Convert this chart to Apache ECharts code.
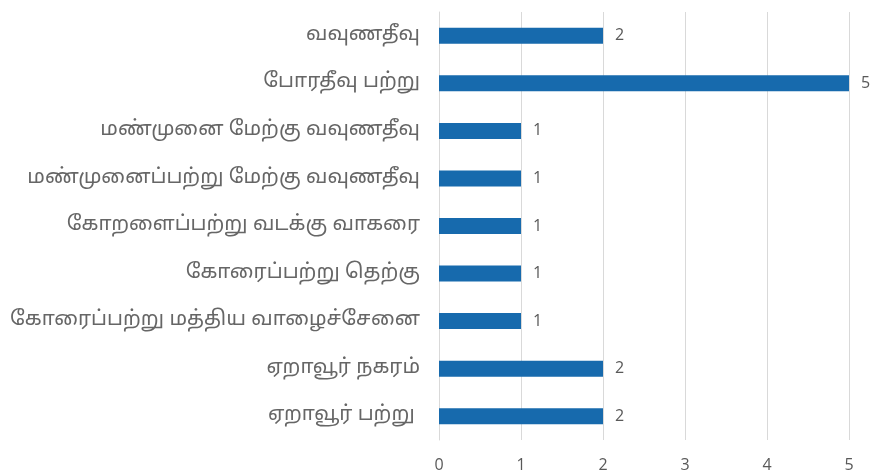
<!DOCTYPE html>
<html>
<head>
<meta charset="utf-8">
<script src="https://cdn.jsdelivr.net/npm/echarts@6/dist/echarts.min.js"></script>
<style>
  html, body { margin: 0; padding: 0; background: #fff; }
  #main { width: 870px; height: 473px; }
</style>
</head>
<body>
<div id="main"></div>
<script>
// data, bottom row first (category axis runs upward)
const categories = [
  "ஏறாவூர் பற்று ",
  "ஏறாவூர் நகரம்",
  "கோரைப்பற்று மத்திய வாழைச்சேனை",
  "கோரைப்பற்று தெற்கு",
  "கோறளைப்பற்று வடக்கு வாகரை",
  "மண்முனைப்பற்று மேற்கு வவுணதீவு",
  "மண்முனை மேற்கு வவுணதீவு",
  "போரதீவு பற்று",
  "வவுணதீவு"
]
const values = [2, 2, 1, 1, 1, 1, 1, 5, 2]
const ticks = [0, 1, 2, 3, 4, 5]

const numFont = "'Open Sans', 'Noto Sans', sans-serif"
const tamilFont = "'Noto Sans Tamil', 'Noto Sans', sans-serif"

const myChart = echarts.init(document.getElementById("main"))

myChart.setOption({
  animation: false,
  grid: { left: 439, right: 21, top: 12, bottom: 33, containLabel: false },
  xAxis: {
    type: "value",
    min: ticks[0],
    max: ticks[ticks.length - 1],
    interval: 1,
    axisLine: { show: false },
    axisTick: { show: false },
    splitLine: { lineStyle: { color: "#d9d9d9", width: 1 } },
    axisLabel: { color: "#595959", fontSize: 16, fontFamily: numFont, margin: 17 }
  },
  yAxis: {
    type: "category",
    data: categories,
    axisLine: { lineStyle: { color: "#d9d9d9" } },
    axisTick: { show: false },
    axisLabel: { color: "#666666", fontSize: 20.5, fontFamily: tamilFont, margin: 19 }
  },
  series: [{
    type: "bar",
    data: values,
    barWidth: 16,
    itemStyle: { color: "#176aad" },
    label: {
      show: true,
      position: "right",
      distance: 12,
      color: "#595959",
      fontSize: 16,
      fontFamily: numFont
    }
  }]
})

window.onresize = () => myChart.resize()
</script>
</body>
</html>
